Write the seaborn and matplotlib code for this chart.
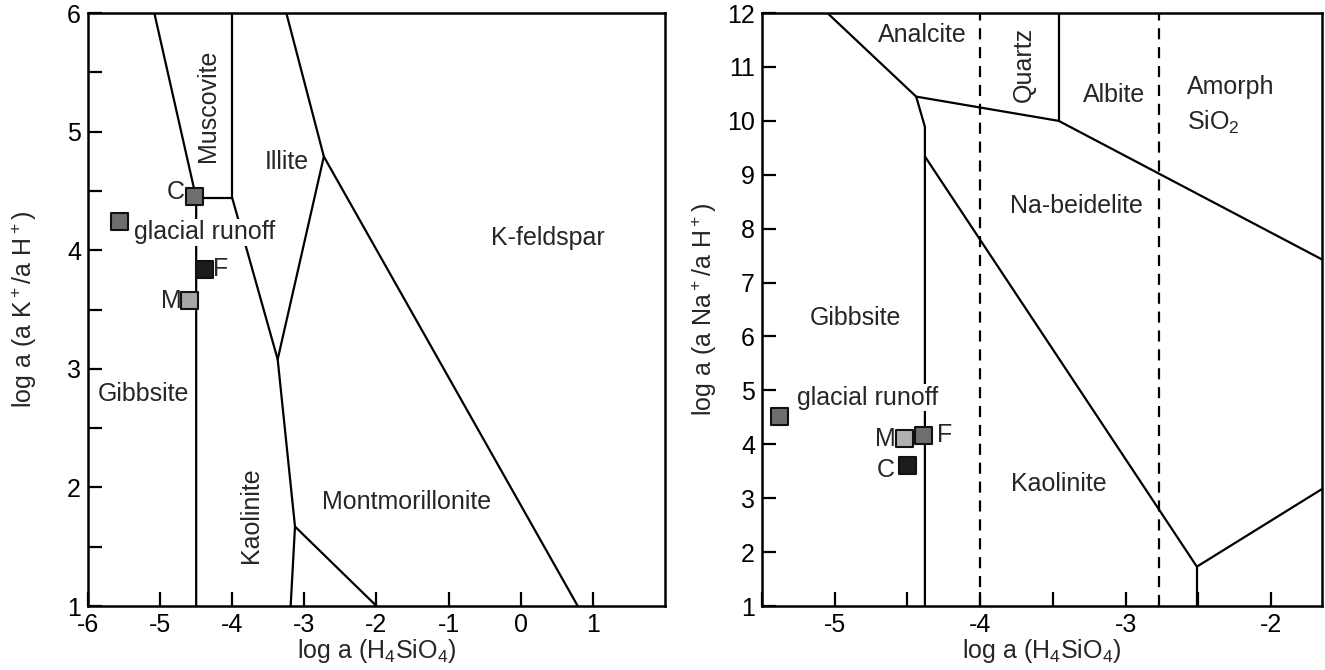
import matplotlib
matplotlib.use('Agg')
import matplotlib.pyplot as plt
import seaborn as sns
import pandas as pd
from matplotlib.ticker import MultipleLocator

# Stability diagrams: K and Na systems vs. log a(H4SiO4)

# ---- K system (left panel) ----
k_xlim = (-6, 2)
k_ylim = (1, 6)
k_xticks = [-6, -5, -4, -3, -2, -1, 0, 1]
k_yticks = [1, 2, 3, 4, 5, 6]

# phase boundaries (x, y)
k_gibbsite_x = [-5.08, -4.5, -4.5]
k_gibbsite_y = [6, 4.44, 1]
k_muscovite_x = [-4.5, -4.0, -4.0]
k_muscovite_y = [4.44, 4.44, 6]
k_kaolinite_x = [-4.0, -3.37, -3.13, -3.19]
k_kaolinite_y = [4.44, 3.08, 1.67, 1.0]
k_illite_x = [-3.37, -2.73]
k_illite_y = [3.08, 4.79]
k_feldspar_x = [-3.25, -2.73, 0.79]
k_feldspar_y = [6, 4.79, 1]
k_montm_x = [-3.13, -2.0]
k_montm_y = [1.67, 1.0]

k_samples = ['C', 'glacial runoff', 'F', 'M']
k_sample_x = [-4.52, -5.56, -4.38, -4.59]
k_sample_y = [4.45, 4.24, 3.84, 3.58]

# ---- Na system (right panel) ----
na_xlim = (-5.5, -1.65)
na_ylim = (1, 12)
na_xticks = [-5, -4, -3, -2]
na_yticks = list(range(1, 13))

na_analcite_x = [-5.05, -4.44, -3.46, -1.65]
na_analcite_y = [12, 10.45, 10.0, 7.43]
na_gibbsite_x = [-4.44, -4.38, -4.38]
na_gibbsite_y = [10.45, 9.89, 1]
na_quartz_x = [-3.46, -3.46]
na_quartz_y = [12, 10.0]
na_beidelite_x = [-4.38, -2.51, -1.65]
na_beidelite_y = [9.34, 1.73, 3.17]
na_lower_x = [-2.51, -2.51]
na_lower_y = [1.73, 1]
na_dashed_x = [-4.0, -2.77]

na_samples = ['glacial runoff', 'M', 'F', 'C']
na_sample_x = [-5.38, -4.52, -4.39, -4.50]
na_sample_y = [4.51, 4.11, 4.17, 3.60]

sample_colors = {'k': ['#6e6e6e', '#6e6e6e', '#1c1c1c', '#a6a6a6'],
                 'na': ['#6e6e6e', '#b0b0b0', '#6e6e6e', '#1c1c1c']}

sns.set_theme(style='white')
plt.rcParams['font.family'] = ['Liberation Sans', 'DejaVu Sans']
plt.rcParams['mathtext.fontset'] = 'custom'
plt.rcParams['mathtext.rm'] = 'Liberation Sans'
plt.rcParams['mathtext.default'] = 'regular'
plt.rcParams['axes.unicode_minus'] = False

FS = 18
fig = plt.figure(figsize=(13.25, 6.7), dpi=100)
ax1 = fig.add_axes([0.0664, 0.0955, 0.4355, 0.885])
ax2 = fig.add_axes([0.5751, 0.0955, 0.4226, 0.885])

line_kw = dict(color='black', lw=1.6, solid_joinstyle='miter', zorder=2)


def boundary(ax, xs, ys, **kw):
    df = pd.DataFrame({'x': xs, 'y': ys})
    opts = dict(line_kw)
    opts.update(kw)
    sns.lineplot(data=df, x='x', y='y', sort=False, estimator=None, ax=ax, **opts)


def samples(ax, names, xs, ys, colors):
    df = pd.DataFrame({'x': xs, 'y': ys, 'name': names})
    sns.scatterplot(data=df, x='x', y='y', hue='name', palette=dict(zip(names, colors)),
                    marker='s', s=150, edgecolor='#111111', linewidth=1.5,
                    legend=False, ax=ax, zorder=5)


def style_axes(ax, xlim, ylim, xticks, yticks, ylabel, ypad):
    ax.set_xlim(*xlim)
    ax.set_ylim(*ylim)
    ax.set_xticks(xticks)
    ax.set_yticks(yticks)
    ax.tick_params(axis='both', which='both', direction='in', length=10, width=1.6,
                   labelsize=FS, pad=5, colors='black', bottom=True, left=True)
    for side in ['top', 'right', 'bottom', 'left']:
        ax.spines[side].set_linewidth(1.8)
        ax.spines[side].set_color('black')
    ax.set_xlabel(r'log a (H$_4$SiO$_4$)', fontsize=FS, labelpad=0)
    ax.set_ylabel(ylabel, fontsize=FS, labelpad=ypad)


# ---------------- left panel ----------------
for xs, ys in [(k_gibbsite_x, k_gibbsite_y), (k_muscovite_x, k_muscovite_y),
               (k_kaolinite_x, k_kaolinite_y), (k_illite_x, k_illite_y),
               (k_feldspar_x, k_feldspar_y), (k_montm_x, k_montm_y)]:
    boundary(ax1, xs, ys)
samples(ax1, k_samples, k_sample_x, k_sample_y, sample_colors['k'])
style_axes(ax1, k_xlim, k_ylim, k_xticks, k_yticks, r'log a (a K$^+$/a H$^+$)', 20)
ax1.yaxis.set_minor_locator(MultipleLocator(0.5))

ax1.text(-4.33, 5.22, 'Muscovite', rotation=90, ha='center', va='center', fontsize=FS)
ax1.text(-3.25, 4.74, 'Illite', ha='center', va='center', fontsize=FS)
ax1.text(-5.36, 4.15, 'glacial runoff', ha='left', va='center', fontsize=FS, zorder=4,
         bbox=dict(facecolor='white', edgecolor='none', pad=1))
ax1.text(-4.66, 4.49, 'C', ha='right', va='center', fontsize=FS)
ax1.text(-4.26, 3.84, 'F', ha='left', va='center', fontsize=FS)
ax1.text(-4.70, 3.57, 'M', ha='right', va='center', fontsize=FS)
ax1.text(0.38, 4.1, 'K-feldspar', ha='center', va='center', fontsize=FS)
ax1.text(-5.23, 2.79, 'Gibbsite', ha='center', va='center', fontsize=FS)
ax1.text(-3.74, 1.77, 'Kaolinite', rotation=90, ha='center', va='center', fontsize=FS)
ax1.text(-1.59, 1.88, 'Montmorillonite', ha='center', va='center', fontsize=FS)

# ---------------- right panel ----------------
for xs, ys in [(na_analcite_x, na_analcite_y), (na_gibbsite_x, na_gibbsite_y),
               (na_quartz_x, na_quartz_y), (na_beidelite_x, na_beidelite_y),
               (na_lower_x, na_lower_y)]:
    boundary(ax2, xs, ys)
for xd in na_dashed_x:
    ax2.axvline(xd, color='black', lw=1.6, ls=(0, (5, 3.5)), zorder=2)
samples(ax2, na_samples, na_sample_x, na_sample_y, sample_colors['na'])
style_axes(ax2, na_xlim, na_ylim, na_xticks, na_yticks, r'log a (a Na$^+$/a H$^+$)', 6)
ax2.xaxis.set_minor_locator(MultipleLocator(0.5))

ax2.text(-4.40, 11.6, 'Analcite', ha='center', va='center', fontsize=FS,
         bbox=dict(facecolor='white', edgecolor='none', pad=0))
ax2.text(-3.70, 11.04, 'Quartz', rotation=90, ha='center', va='center', fontsize=FS)
ax2.text(-3.08, 10.48, 'Albite', ha='center', va='center', fontsize=FS)
ax2.text(-2.58, 10.63, 'Amorph', ha='left', va='center', fontsize=FS)
ax2.text(-2.58, 9.98, r'SiO$_2$', ha='left', va='center', fontsize=FS)
ax2.text(-3.34, 8.43, 'Na-beidelite', ha='center', va='center', fontsize=FS)
ax2.text(-4.86, 6.35, 'Gibbsite', ha='center', va='center', fontsize=FS)
ax2.text(-5.26, 4.86, 'glacial runoff', ha='left', va='center', fontsize=FS, zorder=4,
         bbox=dict(facecolor='white', edgecolor='none', pad=1))
ax2.text(-4.58, 4.09, 'M', ha='right', va='center', fontsize=FS)
ax2.text(-4.30, 4.17, 'F', ha='left', va='center', fontsize=FS)
ax2.text(-4.59, 3.52, 'C', ha='right', va='center', fontsize=FS)
ax2.text(-3.46, 3.26, 'Kaolinite', ha='center', va='center', fontsize=FS)

plt.savefig('out.png', dpi=100)
